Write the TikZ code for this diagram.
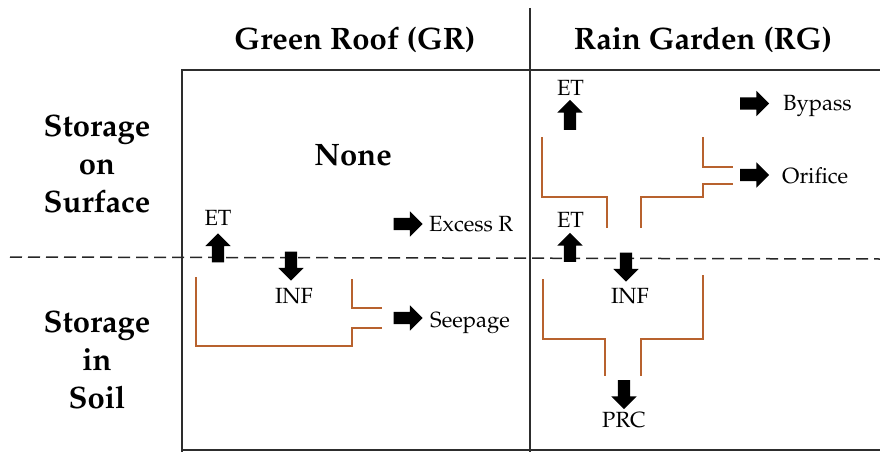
\documentclass[tikz,border=0pt]{standalone}
\usepackage[T1]{fontenc}
\usepackage{mathpazo}
\usetikzlibrary{shapes.arrows}
\definecolor{wallbrown}{RGB}{184,98,46}
\definecolor{framegray}{RGB}{45,45,45}
\tikzset{
  bigtext/.style={font=\fontsize{31}{38}\selectfont\bfseries, inner sep=0pt},
  sidetext/.style={font=\fontsize{31}{38}\selectfont\bfseries, inner sep=0pt, align=center},
  flowlabel/.style={font=\fontsize{22}{26}\selectfont, inner sep=0pt},
  blockarrow/.style={single arrow, fill=black, draw=none, inner sep=6pt,
     minimum height=29pt, single arrow head extend=6.5pt, single arrow head indent=0pt},
  uparrow/.style={blockarrow, shape border rotate=90},
  downarrow/.style={blockarrow, shape border rotate=270},
  rightarrow/.style={blockarrow},
  wall/.style={draw=wallbrown, line width=2.8pt},
  frameline/.style={draw=framegray, line width=1.4pt},
  divider/.style={draw=black!85, line width=1.5pt, dash pattern=on 12pt off 6pt},
}
\begin{document}
\begin{tikzpicture}[x=1pt,y=-1pt]
\useasboundingbox (0,0) rectangle (880,452);
% frame
\coordinate (fTL) at (182,70);
\coordinate (fBL) at (182,452);
\coordinate (fTR) at (880,70);
\coordinate (dTop) at (530,8);
\coordinate (dBot) at (530,452);
\coordinate (bL) at (182,450);
\coordinate (bR) at (880,450);
\draw[frameline] (fBL) -- (fTL) -- (fTR);
\draw[frameline] (dTop) -- (dBot);
\draw[frameline] (bL) -- (bR);
% dashed ground line
\coordinate (gL) at (10,257);
\coordinate (gR) at (880,259);
\draw[divider] (gL) -- (gR);

% headings
\node[bigtext, anchor=base] (tGR) at (355,50) {Green Roof (GR)};
\node[bigtext, anchor=base] (tRG) at (703,50) {Rain Garden (RG)};
\node[sidetext, anchor=base] (sSurf) at (97,212) {Storage\\on\\Surface};
\node[sidetext, anchor=base] (sSoil) at (97,408) {Storage\\in\\Soil};
\node[bigtext, anchor=base] (none) at (353,165) {None};

% ---- Green roof ----
\node[flowlabel, anchor=base] (grET) at (218,225) {ET};
\node[uparrow] (grETa) at (218,251) {};
\node[downarrow] (grINFa) at (291,263) {};
\node[flowlabel, anchor=base] (grINF) at (294,303) {INF};
\node[rightarrow] (grExa) at (405,224) {};
\node[flowlabel, anchor=base west] (grEx) at (429,231) {Excess R};
\node[rightarrow] (grSeea) at (405,318) {};
\node[flowlabel, anchor=base west] (grSee) at (430,327) {Seepage};
\coordinate (gw1) at (196,277);
\coordinate (gw2) at (196,346);
\coordinate (gw3) at (352,346);
\coordinate (gw4) at (352,328);
\coordinate (gw5) at (382,328);
\coordinate (gw6) at (352,279);
\coordinate (gw7) at (352,308);
\coordinate (gw8) at (382,308);
\draw[wall] (gw1) -- (gw2) -- (gw3) -- (gw4) -- (gw5);
\draw[wall] (gw6) -- (gw7) -- (gw8);

% ---- Rain garden ----
\node[flowlabel, anchor=base] (rgET1) at (570.5,95) {ET};
\node[uparrow, minimum height=30pt] (rgET1a) at (570,118) {};
\node[rightarrow] (rgBya) at (751.5,103.5) {};
\node[flowlabel, anchor=base west] (rgBy) at (783,110) {Bypass};
\node[rightarrow] (rgOra) at (751.5,175) {};
\node[flowlabel, anchor=base west] (rgOr) at (782,183) {Orifice};
\node[flowlabel, anchor=base] (rgET2) at (570.5,227) {ET};
\node[uparrow] (rgET2a) at (570,250.5) {};
\node[downarrow] (rgINFa) at (626,264) {};
\node[flowlabel, anchor=base] (rgINF) at (630,303) {INF};
\node[downarrow] (rgPRCa) at (624,391.5) {};
\node[flowlabel, anchor=base] (rgPRC) at (624,427) {PRC};
% upper walls
\coordinate (ra1) at (542,137);
\coordinate (ra2) at (542,197);
\coordinate (ra3) at (607,197);
\coordinate (ra4) at (607,228);
\draw[wall] (ra1) -- (ra2) -- (ra3) -- (ra4);
\coordinate (rb1) at (641,228);
\coordinate (rb2) at (641,197);
\coordinate (rb3) at (703,197);
\coordinate (rb4) at (703,184);
\coordinate (rb5) at (733,184);
\draw[wall] (rb1) -- (rb2) -- (rb3) -- (rb4) -- (rb5);
\coordinate (rc1) at (703,137);
\coordinate (rc2) at (703,167);
\coordinate (rc3) at (733,167);
\draw[wall] (rc1) -- (rc2) -- (rc3);
% lower walls
\coordinate (rd1) at (543,279);
\coordinate (rd2) at (543,339);
\coordinate (rd3) at (605,339);
\coordinate (rd4) at (605,376);
\draw[wall] (rd1) -- (rd2) -- (rd3) -- (rd4);
\coordinate (re1) at (641,376);
\coordinate (re2) at (641,339);
\coordinate (re3) at (703,339);
\coordinate (re4) at (703,275);
\draw[wall] (re1) -- (re2) -- (re3) -- (re4);
\end{tikzpicture}
\end{document}
